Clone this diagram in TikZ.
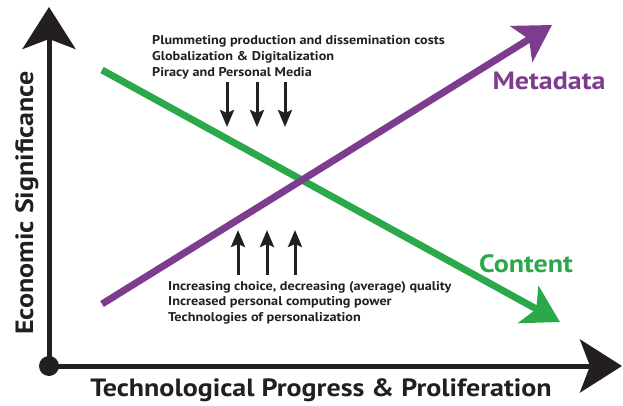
\documentclass[tikz,border=0pt]{standalone}
\usepackage{fontspec}
\setmainfont[FakeStretch=1.12]{PT Sans}
\usetikzlibrary{arrows.meta}

\definecolor{contentgreen}{RGB}{43,168,74}
\definecolor{metapurple}{RGB}{125,60,142}
\definecolor{inkgray}{RGB}{35,31,32}

\begin{document}
\begin{tikzpicture}[x=1pt,y=-1pt,
	axis/.style={line width=5pt,draw=inkgray,-{Stealth[length=42pt,width=53pt,inset=10pt]}},
	trend/.style={line width=7pt,-{Stealth[length=36pt,width=42pt,inset=9pt]}},
	push/.style={line width=3pt,draw=inkgray,-{Stealth[length=17pt,width=14pt,inset=3pt]}},
	note/.style={anchor=base west,inner sep=0pt,text=inkgray,font=\bfseries\fontsize{12.7}{15}\selectfont},
	big/.style={anchor=base,inner sep=0pt,font=\bfseries\fontsize{25}{25}\selectfont}]
				\useasboundingbox (0,0) rectangle (623,406);
				% axes
				\node (O) at (49,366) [circle,fill=inkgray,minimum size=20pt,inner sep=0pt] {};
				\coordinate (ytip) at (49,7);
				\coordinate (xtip) at (622,366);
				\draw[axis] (O.center) -- (ytip);
				\draw[axis] (O.center) -- (xtip);
				\node[big,text=inkgray,rotate=90] (ylab) at (33,203) {Economic Significance};
				\node[big,text=inkgray] (xlab) at (321,396) {Technological Progress \& Proliferation};
				% the two trends
				\coordinate (c0) at (102,70);
				\coordinate (c1) at (560,322);
				\coordinate (m0) at (102,304);
				\coordinate (m1) at (552,25);
				\draw[trend,draw=contentgreen,fill=contentgreen] (c0) -- (c1);
				\draw[trend,draw=metapurple,fill=metapurple] (m0) -- (m1);
				\node[big,text=metapurple] (meta) at (549,90) {Metadata};
				\node[big,text=contentgreen] (content) at (526,272) {Content};
				% forces pushing down
				\foreach \t [count=\i] in {Plummeting production and dissemination costs,
					Globalization \& Digitalization,Piracy and Personal Media}
					\node[note] (down\i) at (152,{45+15.6*(\i-1)}) {\t};
				\foreach \x [count=\i] in {227,257,285}{
					\coordinate (d\i) at (\x,82);
					\coordinate (e\i) at (\x,127);
					\draw[push] (d\i) -- (e\i);
				}
				% forces pushing up
				\foreach \t [count=\i] in {{Increasing choice, decreasing (average) quality},
					Increased personal computing power,Technologies of personalization}
					\node[note] (up\i) at (168,{290+15.6*(\i-1)}) {\t};
				\foreach \x [count=\i] in {238,267,295}{
					\coordinate (u\i) at (\x,275);
					\coordinate (v\i) at (\x,230);
					\draw[push] (u\i) -- (v\i);
				}
\end{tikzpicture}
\end{document}
